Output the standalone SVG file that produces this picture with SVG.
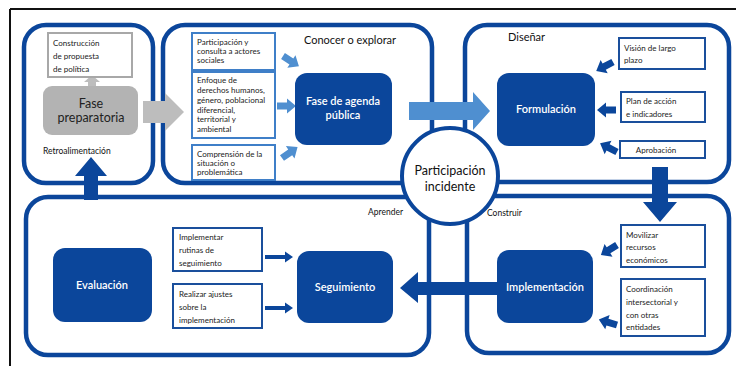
<svg xmlns="http://www.w3.org/2000/svg" xmlns:xlink="http://www.w3.org/1999/xlink" width="736" height="366" viewBox="0 0 736 366">
<style>
.panel{fill:#fff;stroke:#0b469b;stroke-width:4.5}
.node{fill:#0b469b}
.ntx{font-family:Lato,"Noto Sans",sans-serif;font-size:11px;fill:#fff;text-anchor:middle;font-weight:600}
.box{fill:#fff;stroke:#1a4f9c;stroke-width:2}
.boxl{fill:#fff;stroke:#3f7fc8;stroke-width:2}
.btx{font-family:Lato,"Noto Sans",sans-serif;font-size:8px;fill:#222}
.ttl{font-family:Lato,"Noto Sans",sans-serif;font-size:11px;fill:#111}
.stl{font-family:Lato,"Noto Sans",sans-serif;font-size:8.5px;fill:#111}
.dk{fill:#0b469b}
.lt{fill:#4f8fd0}
</style>
<defs>
<path id="sa" d="M0,-3.5 H10 V-7.5 L19,0 L10,7.5 V3.5 H0 Z"/>
<path id="sb" d="M0,-2 H20 V-5.5 L28,0 L20,5.5 V2 H0 Z"/>
</defs>
<rect width="736" height="366" fill="#fff"/>
<g id="frame" stroke="#111" stroke-width="2" fill="none">
<line x1="10" y1="9" x2="736" y2="9"/>
<line x1="10" y1="9" x2="10" y2="366"/>
</g>
<g id="panels">
<rect class="panel" x="24" y="25" width="129" height="158" rx="22"/>
<rect class="panel" x="163" y="25" width="269" height="158" rx="22"/>
<rect class="panel" x="465" y="25" width="264" height="157" rx="22"/>
<rect class="panel" x="26" y="197" width="403" height="158" rx="22"/>
<rect class="panel" x="467" y="196" width="262" height="157" rx="22"/>
</g>
<g id="connectors">
<polygon fill="#bdbdbd" points="88,87 88,82 84,82 92,75 100,82 96,82 96,87"/>
<polygon fill="#bdbdbd" points="143,101 165,101 165,93 184,112 165,131 165,123 143,123"/>
<polygon class="lt" points="409,102 473,102 473,92 490,111 473,130 473,120 409,120"/>
<polygon class="dk" points="652,167 668,167 668,202 677,202 660,222 643,202 652,202"/>
<polygon class="dk" points="497,282 418,282 418,272 400,288 418,303 418,295 497,295"/>
<polygon class="dk" points="84,200 84,176 75,176 91,157 107,176 98,176 98,200"/>
<use xlink:href="#sa" class="lt" transform="translate(283,56) rotate(33)"/>
<use xlink:href="#sa" class="lt" transform="translate(277,106)"/>
<use xlink:href="#sa" class="lt" transform="translate(282,158) rotate(-35)"/>
<use xlink:href="#sa" class="dk" transform="translate(613,62) rotate(152)"/>
<use xlink:href="#sa" class="dk" transform="translate(616,110) rotate(180)"/>
<use xlink:href="#sa" class="dk" transform="translate(617,152) rotate(207)"/>
<use xlink:href="#sa" class="dk" transform="translate(617,245) rotate(148)"/>
<use xlink:href="#sa" class="dk" transform="translate(617,325) rotate(197)"/>
<use xlink:href="#sb" class="dk" transform="translate(265,257)"/>
<use xlink:href="#sb" class="dk" transform="translate(265,308)"/>
</g>
<g id="titles">
<text class="ttl" x="304" y="44">Conocer o explorar</text>
<text class="ttl" x="508" y="41">Diseñar</text>
<text class="stl" x="368" y="215">Aprender</text>
<text class="stl" x="487" y="216">Construir</text>
<text class="stl" x="43" y="154">Retroalimentación</text>
</g>
<g id="n-propuesta">
<rect x="48" y="33" width="84" height="44" fill="#fff" stroke="#a8a8a8" stroke-width="2"/>
<text class="btx" x="53" y="46">Construcción</text>
<text class="btx" x="53" y="59">de propuesta</text>
<text class="btx" x="53" y="72">de política</text>
</g>
<g id="n-preparatoria">
<rect x="43" y="86" width="95" height="49" rx="9" fill="#b3b3b3"/>
<text x="91" y="108" font-family="Lato,'Noto Sans',sans-serif" font-size="12.5" fill="#222" text-anchor="middle">Fase</text>
<text x="91" y="122" font-family="Lato,'Noto Sans',sans-serif" font-size="12.5" fill="#222" text-anchor="middle">preparatoria</text>
</g>
<g id="n-participacion">
<rect class="boxl" x="192" y="33" width="83" height="37"/>
<text class="btx" x="197" y="45">Participación y</text>
<text class="btx" x="197" y="54">consulta a actores</text>
<text class="btx" x="197" y="63">sociales</text>
</g>
<g id="n-enfoque">
<rect class="boxl" x="192" y="72" width="83" height="66"/>
<text class="btx" x="197" y="83">Enfoque de</text>
<text class="btx" x="197" y="93">derechos humanos,</text>
<text class="btx" x="197" y="103">género, poblacional</text>
<text class="btx" x="197" y="113">diferencial,</text>
<text class="btx" x="197" y="122">territorial y</text>
<text class="btx" x="197" y="132">ambiental</text>
</g>
<g id="n-comprension">
<rect class="boxl" x="192" y="145" width="83" height="35"/>
<text class="btx" x="197" y="157">Comprensión de la</text>
<text class="btx" x="197" y="166">situación o</text>
<text class="btx" x="197" y="175">problemática</text>
</g>
<g id="n-agenda">
<rect class="node" x="295" y="73" width="97" height="72" rx="12"/>
<text class="ntx" x="343" y="105">Fase de agenda</text>
<text class="ntx" x="343" y="119">pública</text>
</g>
<g id="n-formulacion">
<rect class="node" x="497" y="73" width="98" height="73" rx="12"/>
<text class="ntx" x="546" y="113">Formulación</text>
</g>
<g id="n-vision">
<rect class="box" x="619" y="38" width="86" height="31"/>
<text class="btx" x="624" y="51">Visión de largo</text>
<text class="btx" x="624" y="63">plazo</text>
</g>
<g id="n-plan">
<rect class="box" x="621" y="92" width="84" height="30"/>
<text class="btx" x="626" y="104">Plan de acción</text>
<text class="btx" x="626" y="117">e indicadores</text>
</g>
<g id="n-aprobacion">
<rect class="box" x="620" y="141" width="85" height="17"/>
<text class="btx" x="656" y="153" text-anchor="middle">Aprobación</text>
</g>
<g id="n-implementacion">
<rect class="node" x="497" y="250" width="96" height="73" rx="12"/>
<text class="ntx" x="545" y="291">Implementación</text>
</g>
<g id="n-movilizar">
<rect class="box" x="621" y="225" width="84" height="42"/>
<text class="btx" x="626" y="238">Movilizar</text>
<text class="btx" x="626" y="250">recursos</text>
<text class="btx" x="626" y="263">económicos</text>
</g>
<g id="n-coordinacion">
<rect class="box" x="621" y="279" width="84" height="57"/>
<text class="btx" x="626" y="292">Coordinación</text>
<text class="btx" x="626" y="305">intersectorial  y</text>
<text class="btx" x="626" y="318">con otras</text>
<text class="btx" x="626" y="330">entidades</text>
</g>
<g id="n-seguimiento">
<rect class="node" x="297" y="251" width="96" height="72" rx="12"/>
<text class="ntx" x="345" y="291">Seguimiento</text>
</g>
<g id="n-rutinas">
<rect class="box" x="173" y="228" width="89" height="43"/>
<text class="btx" x="179" y="240">Implementar</text>
<text class="btx" x="179" y="253">rutinas de</text>
<text class="btx" x="179" y="266">seguimiento</text>
</g>
<g id="n-ajustes">
<rect class="box" x="173" y="284" width="89" height="44"/>
<text class="btx" x="179" y="297">Realizar ajustes</text>
<text class="btx" x="179" y="310">sobre la</text>
<text class="btx" x="179" y="323">implementación</text>
</g>
<g id="n-evaluacion">
<rect class="node" x="53" y="248" width="99" height="74" rx="12"/>
<text class="ntx" x="102" y="289">Evaluación</text>
</g>
<g id="n-incidente">
<circle cx="450" cy="176" r="48" fill="#fff" stroke="#0b469b" stroke-width="4"/>
<text x="450" y="175" font-family="Lato,'Noto Sans',sans-serif" font-size="12.5" fill="#111" text-anchor="middle">Participación</text>
<text x="450" y="191" font-family="Lato,'Noto Sans',sans-serif" font-size="12.5" fill="#111" text-anchor="middle">incidente</text>
</g>
</svg>
